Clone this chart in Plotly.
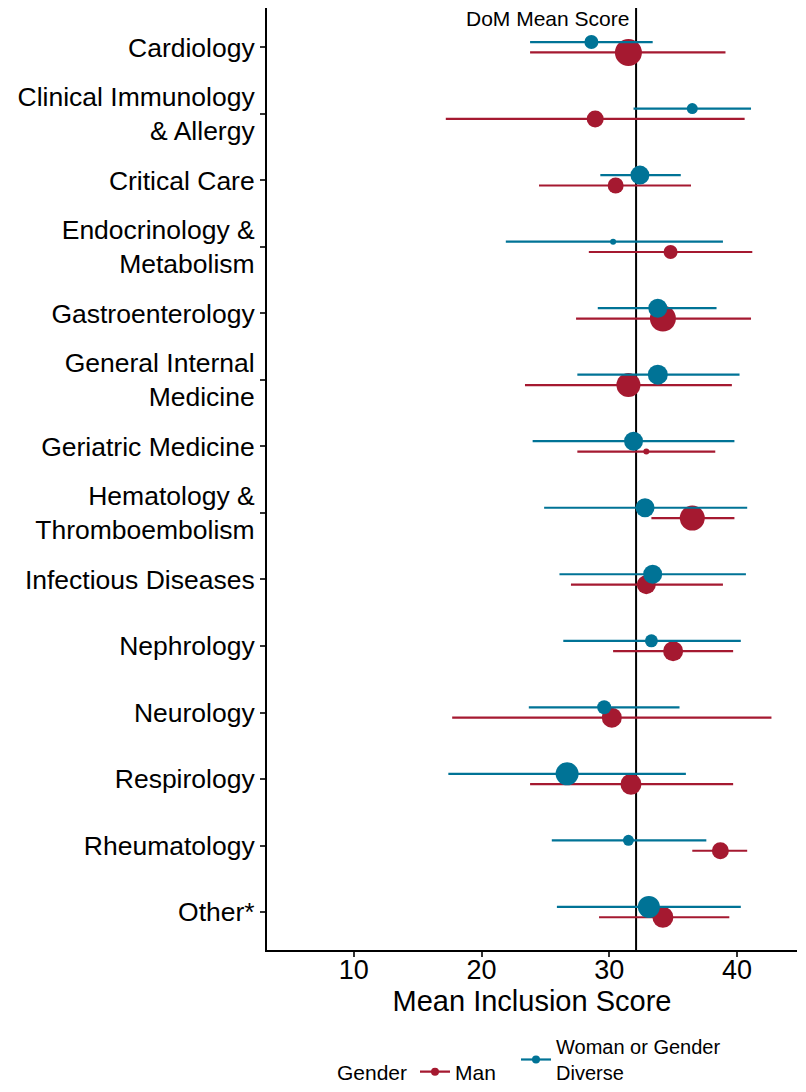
import plotly.graph_objects as go

categories = ["Cardiology", "Clinical Immunology<br>& Allergy", "Critical Care",
              "Endocrinology &<br>Metabolism", "Gastroenterology",
              "General Internal<br>Medicine", "Geriatric Medicine",
              "Hematology &<br>Thromboembolism", "Infectious Diseases",
              "Nephrology", "Neurology", "Respirology", "Rheumatology", "Other*"]

man_mean = [31.5, 28.9, 30.5, 34.8, 34.2, 31.5, 32.9, 36.5, 32.9, 35.0, 30.2, 31.7, 38.7, 34.2]
man_low  = [23.8, 17.2, 24.5, 28.4, 27.4, 23.4, 27.5, 33.3, 27.0, 30.3, 17.7, 23.8, 36.5, 29.2]
man_high = [39.1, 40.6, 36.4, 41.2, 41.1, 39.6, 38.3, 39.8, 38.9, 39.7, 42.7, 39.7, 40.8, 39.4]

wom_mean = [28.6, 36.5, 32.4, 30.3, 33.8, 33.8, 31.9, 32.8, 33.4, 33.3, 29.6, 26.7, 31.5, 33.1]
wom_low  = [23.8, 31.9, 29.3, 21.9, 29.1, 27.5, 24.0, 24.9, 26.1, 26.4, 23.7, 17.4, 25.5, 25.9]
wom_high = [33.4, 41.1, 35.6, 38.9, 38.4, 40.2, 39.8, 40.8, 40.7, 40.3, 35.5, 36.0, 37.6, 40.3]

# marker diameters (encode group size)
man_size = [27, 17, 16, 14, 26, 24, 6, 25, 19, 20, 20, 21, 17, 21]
wom_size = [14, 11, 19, 6, 19, 20, 19, 19, 19, 13, 14, 23, 11, 22]

dom_mean = 32.1

RED = "#A51930"
BLUE = "#007396"
FONT = "Liberation Sans, Arial"

# the page body has an 8px margin; size the figure so the plot lands where intended
W, H = 798, 1084
ML, MR, MT, MB = 259, 9, 0, 142
PW = W - ML - MR
PH = H - MT - MB

n = len(categories)
pos = [n - i for i in range(n)]
dodge = 0.078

fig = go.Figure()

fig.add_trace(go.Scatter(
    x=man_mean, y=[p - dodge for p in pos], mode="markers",
    marker=dict(color=RED, size=man_size, opacity=1, line=dict(width=0)),
    error_x=dict(type="data", symmetric=False,
                 array=[h - m for h, m in zip(man_high, man_mean)],
                 arrayminus=[m - l for m, l in zip(man_mean, man_low)],
                 color=RED, thickness=2.2, width=0),
    showlegend=False, hoverinfo="skip"))

fig.add_trace(go.Scatter(
    x=wom_mean, y=[p + dodge for p in pos], mode="markers",
    marker=dict(color=BLUE, size=wom_size, opacity=1, line=dict(width=0)),
    error_x=dict(type="data", symmetric=False,
                 array=[h - m for h, m in zip(wom_high, wom_mean)],
                 arrayminus=[m - l for m, l in zip(wom_mean, wom_low)],
                 color=BLUE, thickness=2.2, width=0),
    showlegend=False, hoverinfo="skip"))

# legend entries
fig.add_trace(go.Scatter(x=[None], y=[None], mode="lines+markers", name="Man",
                         line=dict(color=RED, width=2.2), marker=dict(color=RED, size=8),
                         legend="legend"))
fig.add_trace(go.Scatter(x=[None], y=[None], mode="lines+markers",
                         name="Woman or Gender<br>Diverse",
                         line=dict(color=BLUE, width=2.2), marker=dict(color=BLUE, size=8),
                         legend="legend2"))

fig.add_shape(type="line", xref="x", yref="paper", x0=dom_mean, x1=dom_mean, y0=0, y1=1,
              line=dict(color="black", width=2), layer="below")

fig.add_annotation(x=dom_mean, y=1, xref="x", yref="paper", text="DoM Mean Score",
                   showarrow=False, xanchor="right", yanchor="top", xshift=-5, yshift=3,
                   font=dict(family=FONT, size=21, color="black"))

LEG_Y_DIV = 1072 - 8
fig.add_annotation(x=(335 - 8 - ML) / PW, y=(PH - LEG_Y_DIV) / PH, xref="paper", yref="paper",
                   text="Gender", showarrow=False, xanchor="left", yanchor="middle",
                   font=dict(family=FONT, size=21, color="black"))

fig.update_layout(
    width=W, height=H,
    margin=dict(l=ML, r=MR, t=MT, b=MB, pad=0),
    plot_bgcolor="white", paper_bgcolor="white",
    font=dict(family=FONT, color="black"),
    xaxis=dict(range=[3.2, 44.7], tickvals=[10, 20, 30, 40], showgrid=False, zeroline=False,
               showline=True, linecolor="black", linewidth=2, automargin=False,
               ticks="outside", ticklen=5, tickwidth=2, tickcolor="#333333",
               ticklabelstandoff=-10,
               tickfont=dict(size=27, color="black", family=FONT),
               title=dict(text="Mean Inclusion Score", font=dict(size=29, color="black", family=FONT),
                          standoff=0)),
    yaxis=dict(range=[0.43, 14.59], tickvals=pos, ticktext=categories, showgrid=False,
               zeroline=False, showline=True, linecolor="black", linewidth=2, automargin=False,
               ticks="outside", ticklen=5, tickwidth=2, tickcolor="#333333",
               tickfont=dict(size=26.5, color="black", family=FONT)),
    legend=dict(orientation="h", x=(415 - 8 - ML) / PW, xanchor="left",
                yref="container", y=1 - LEG_Y_DIV / H, yanchor="middle",
                font=dict(size=21, family=FONT, color="black"), bgcolor="rgba(0,0,0,0)"),
    legend2=dict(orientation="h", x=(516 - 8 - ML) / PW, xanchor="left",
                 yref="container", y=-0.006, yanchor="bottom",
                 font=dict(size=20, family=FONT, color="black"), bgcolor="rgba(0,0,0,0)"),
)

fig.write_html("out.html")
